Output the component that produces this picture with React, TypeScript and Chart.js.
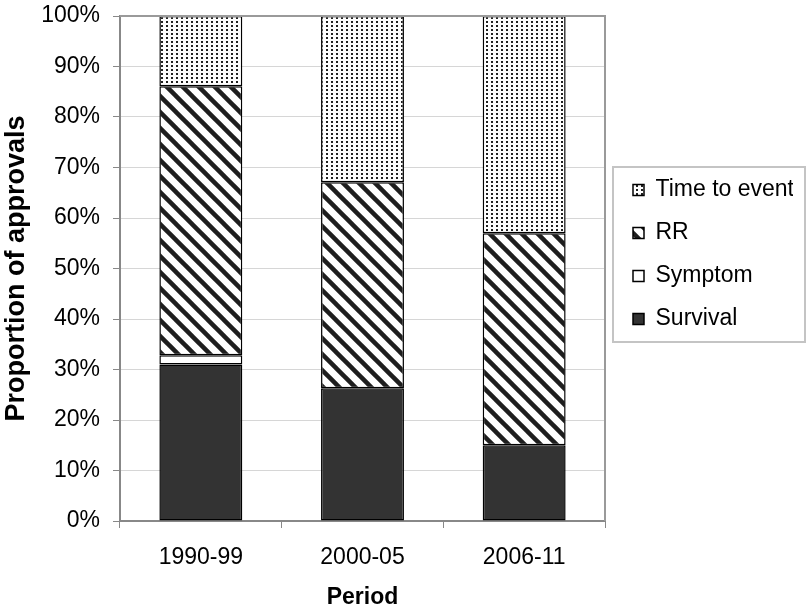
import React, { useEffect, useRef } from "react";
import { Chart, registerables } from "chart.js";

Chart.register(...registerables);

const periods = ["1990-99", "2000-05", "2006-11"];
const survival = [31.0, 26.3, 15.0];
const symptom = [1.8, 0, 0];
const rr = [53.3, 40.8, 42.0];
const timeToEvent = [13.9, 32.9, 43.0];
const seriesNames = ["Survival", "Symptom", "RR", "Time to event"];

const FONT = "'Liberation Sans', Arial, sans-serif";

function makeDots(ctx: CanvasRenderingContext2D) {
  const c = document.createElement("canvas");
  c.width = 5;
  c.height = 4;
  const g = c.getContext("2d")!;
  g.fillStyle = "#ffffff";
  g.fillRect(0, 0, 5, 4);
  g.fillStyle = "#222222";
  g.fillRect(1, 1, 2, 2);
  return ctx.createPattern(c, "repeat")!;
}

function makeStripes(ctx: CanvasRenderingContext2D) {
  const s = 16;
  const c = document.createElement("canvas");
  c.width = s;
  c.height = s;
  const g = c.getContext("2d")!;
  g.fillStyle = "#ffffff";
  g.fillRect(0, 0, s, s);
  g.strokeStyle = "#1e1e1e";
  g.lineWidth = 4.5;
  for (const k of [-1, 0, 1]) {
    g.beginPath();
    g.moveTo(k * s - 3, -3);
    g.lineTo(k * s + s + 3, s + 3);
    g.stroke();
  }
  return ctx.createPattern(c, "repeat")!;
}

const framePlugin = {
  id: "frames",
  afterLayout(chart: any) {
    const lg = chart.legend;
    if (!lg) return;
    const a = chart.chartArea;
    const dx = a.right + 8 - lg.left;
    lg.left += dx;
    lg.right += dx;
    const dy = a.top + 142.5 - lg.top;
    lg.top += dy;
    lg.bottom += dy;
  },
  afterDraw(chart: any) {
    const { ctx, chartArea: a } = chart;
    ctx.save();
    ctx.strokeStyle = "#9a9a9a";
    ctx.lineWidth = 2;
    ctx.beginPath();
    ctx.moveTo(a.left, a.top);
    ctx.lineTo(a.right, a.top);
    ctx.lineTo(a.right, a.bottom);
    ctx.stroke();
    const lg = chart.legend;
    if (lg && lg.legendHitBoxes && lg.legendHitBoxes.length) {
      const hb = lg.legendHitBoxes;
      const first = hb[0];
      const last = hb[hb.length - 1];
      const top = first.top - 11.5;
      const bottom = last.top + last.height + 11.5;
      const left = a.right + 8;
      const right = chart.width - 3;
      ctx.strokeStyle = "#c4c4c4";
      ctx.lineWidth = 2;
      ctx.strokeRect(left, top, right - left, bottom - top);
    }
    ctx.restore();
  },
};

export default function App() {
  const ref = useRef<HTMLCanvasElement | null>(null);

  useEffect(() => {
    const canvas = ref.current!;
    const ctx = canvas.getContext("2d")!;
    const dots = makeDots(ctx);
    const stripes = makeStripes(ctx);
    const fills = ["#333333", "#ffffff", stripes, dots];
    const values = [survival, symptom, rr, timeToEvent];

    const chart = new Chart(canvas, {
      type: "bar",
      data: {
        labels: periods,
        datasets: seriesNames.map((name, i) => ({
          label: name,
          data: values[i],
          backgroundColor: fills[i] as any,
          borderColor: "#000000",
          borderWidth: 1.5,
          borderSkipped: false,
          barPercentage: 0.513,
          categoryPercentage: 1,
        })),
      },
      options: {
        responsive: false,
        animation: false,
        devicePixelRatio: 1,
        layout: { padding: { left: 0, top: 16, right: 23, bottom: 0 } },
        plugins: {
          tooltip: { enabled: false },
          legend: {
            position: "right",
            align: "start",
            reverse: true,
            maxWidth: 180,
            labels: {
              boxWidth: 11,
              boxHeight: 11,
              padding: 20,
              color: "#000000",
              font: { family: FONT, size: 23 },
            },
          },
        },
        scales: {
          x: {
            stacked: true,
            afterFit: (s: any) => {
              s.height = 91;
              s.paddingLeft = 0;
              s.paddingRight = 0;
            },
            grid: {
              offset: true,
              drawOnChartArea: false,
              drawTicks: true,
              tickLength: 7,
              color: "#888888",
              tickColor: "#888888",
            },
            border: { color: "#888888", width: 2 },
            ticks: {
              color: "#000000",
              padding: 16,
              font: { family: FONT, size: 23 },
            },
            title: {
              display: true,
              text: "Period",
              color: "#000000",
              font: { family: FONT, size: 23, weight: "bold" },
              padding: { top: 0, bottom: 1 },
            },
          },
          y: {
            stacked: true,
            min: 0,
            max: 100,
            afterFit: (s: any) => {
              s.width = 120;
              s.paddingTop = 0;
              s.paddingBottom = 0;
            },
            grid: {
              color: "#d6d6d6",
              lineWidth: 1,
              tickLength: 7,
              tickColor: "#888888",
            },
            border: { color: "#888888", width: 2 },
            ticks: {
              stepSize: 10,
              color: "#000000",
              padding: 13,
              font: { family: FONT, size: 23 },
              callback: (v: any) => v + "%",
            },
            title: {
              display: true,
              text: "Proportion of approvals",
              color: "#000000",
              font: { family: FONT, size: 27, weight: "bold" },
              padding: { top: 0, bottom: 0 },
            },
          },
        },
      },
      plugins: [framePlugin],
    });
    return () => chart.destroy();
  }, []);

  return (
    <div style={{ position: "absolute", left: 0, top: 0, width: 808, height: 612 }}>
      <canvas ref={ref} width={808} height={612} style={{ display: "block", width: 808, height: 612 }} />
    </div>
  );
}
